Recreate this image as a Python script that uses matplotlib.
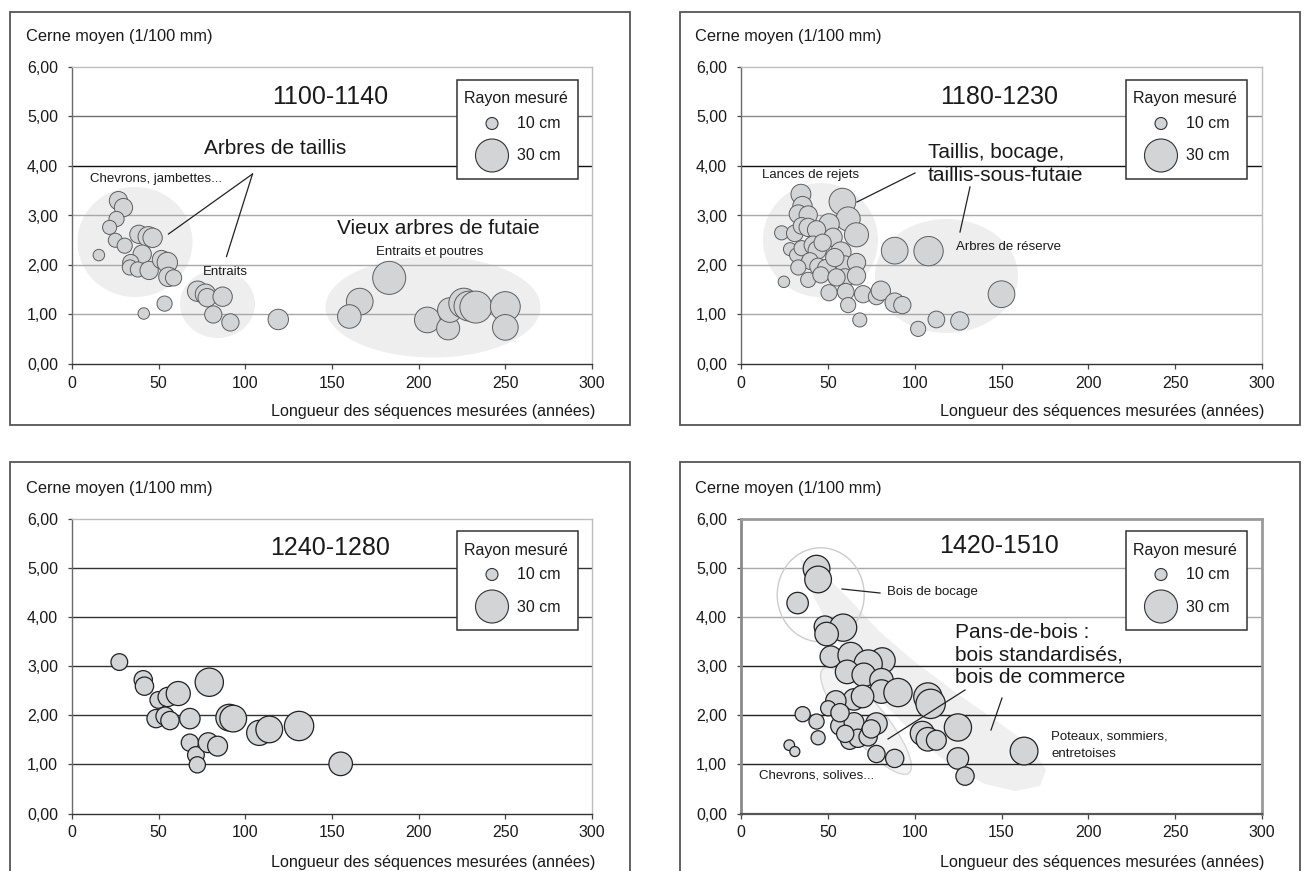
import matplotlib
matplotlib.use("Agg")
import matplotlib.pyplot as plt
import numpy as np
from matplotlib.patches import Ellipse, Rectangle, Polygon

plt.rcParams['font.family'] = ['Liberation Sans', 'DejaVu Sans']

# ---------------- data ----------------
y_ticks = [0, 1, 2, 3, 4, 5, 6]
y_tick_labels = ["0,00", "1,00", "2,00", "3,00", "4,00", "5,00", "6,00"]
x_ticks = [0, 50, 100, 150, 200, 250, 300]
x_tick_labels = ["0", "50", "100", "150", "200", "250", "300"]

y_title = "Cerne moyen (1/100 mm)"
x_title = "Longueur des séquences mesurées (années)"
legend_title = "Rayon mesuré"
legend_r = [10, 30]
legend_labels = ["10 cm", "30 cm"]

periods = ["1100-1140", "1180-1230", "1240-1280", "1420-1510"]

# 1100-1140
p1_x = [26.8, 29.7, 25.7, 21.7, 25.0, 30.4, 15.5, 38.6, 44.0, 46.5, 40.5, 33.9, 33.4, 38.0, 44.5,
        51.6, 55.0, 55.6, 58.6, 53.4, 41.4, 72.5, 77.0, 78.0, 86.9, 81.5, 91.4, 119.0,
        183, 166, 160, 205, 217, 218, 226, 229, 233, 250, 250]
p1_y = [3.30, 3.16, 2.93, 2.76, 2.50, 2.39, 2.20, 2.62, 2.57, 2.55, 2.22, 2.05, 1.95, 1.91, 1.89,
        2.11, 2.05, 1.76, 1.74, 1.22, 1.02, 1.47, 1.41, 1.34, 1.36, 1.00, 0.84, 0.90,
        1.74, 1.26, 0.96, 0.89, 0.72, 1.09, 1.23, 1.17, 1.15, 1.16, 0.74]
p1_r = [16, 16, 13, 12, 12, 13, 9.5, 16, 18, 17, 16, 14, 13, 13, 16,
        16, 18, 17, 14, 13, 9.5, 18, 18, 16, 17, 15, 15, 18,
        30, 24, 21, 23, 20.5, 22, 27, 27, 29, 27, 23]

# 1180-1230
p2_x = [34.5, 35.4, 33.0, 38.7, 58.4, 61.7, 66.5, 50.7, 23.4, 31.0, 34.9, 38.7, 43.5, 53.0, 28.2,
        32.0, 34.9, 41.6, 43.9, 39.7, 33.0, 38.7, 44.4, 49.3, 57.5, 59.8, 66.5, 59.8, 66.5, 50.7,
        60.3, 61.7, 68.4, 24.7, 70.3, 78.0, 80.5, 88.5, 92.9, 88.5, 108.0, 102.0, 112.5, 126.0,
        150.0, 47.0, 54.0, 46.0, 55.0]
p2_y = [3.43, 3.19, 3.03, 3.01, 3.28, 2.93, 2.61, 2.83, 2.65, 2.64, 2.79, 2.76, 2.71, 2.56, 2.32,
        2.20, 2.34, 2.40, 2.30, 2.08, 1.95, 1.70, 1.97, 1.93, 2.26, 2.00, 2.05, 1.74, 1.78, 1.44,
        1.46, 1.19, 0.89, 1.66, 1.41, 1.36, 1.48, 1.24, 1.19, 2.29, 2.28, 0.71, 0.90, 0.87,
        1.41, 2.45, 2.15, 1.80, 1.75]
p2_r = [17.5, 17, 16, 16, 24, 21.5, 21.5, 18, 12, 14.5, 14.5, 16, 16, 16, 11,
        12, 13, 16, 16, 14.5, 13, 13, 14.5, 16, 18, 16, 16, 16, 16, 14,
        14.5, 13, 12, 9.5, 15, 14, 17, 17, 15, 24, 26.5, 13, 14.5, 16,
        24, 15, 16, 14, 15]

# 1240-1280
p3_x = [27.3, 41.1, 41.8, 49.8, 55.2, 61.3, 79.2, 48.5, 53.7, 56.5, 68.0, 90.7, 93.0, 68.0,
        71.5, 72.3, 78.6, 84.0, 108.0, 113.8, 131.0, 155.0]
p3_y = [3.08, 2.72, 2.59, 2.31, 2.37, 2.44, 2.67, 1.93, 1.98, 1.89, 1.93, 1.95, 1.93, 1.44,
        1.19, 0.99, 1.44, 1.37, 1.64, 1.71, 1.78, 1.01]
p3_r = [14.5, 16, 16, 14.5, 17, 21.5, 25.5, 16, 16, 16, 18, 24, 24, 15,
        14.5, 14, 17.5, 17.5, 22.5, 24, 26.5, 21]

# 1420-1510
p4_x = [43.5, 44.4, 32.6, 48.3, 58.8, 49.3, 51.7, 63.2, 81.4, 73.2, 61.1, 70.7, 80.9, 80.9, 65.1,
        54.6, 90.4, 107.6, 109.2, 50.2, 35.5, 43.5, 56.9, 65.1, 78.0, 44.4, 62.6, 67.4, 73.2, 78.0,
        88.5, 104.4, 107.6, 112.5, 124.9, 124.9, 129.0, 27.8, 31.0, 163.0, 57.0, 70.0, 60.0, 75.0]
p4_y = [4.98, 4.76, 4.28, 3.80, 3.78, 3.65, 3.19, 3.22, 3.11, 3.04, 2.88, 2.82, 2.71, 2.48, 2.32,
        2.29, 2.46, 2.37, 2.23, 2.14, 2.02, 1.87, 1.78, 1.85, 1.83, 1.54, 1.49, 1.53, 1.56, 1.21,
        1.12, 1.63, 1.51, 1.49, 1.75, 1.12, 0.76, 1.39, 1.26, 1.27, 2.05, 2.38, 1.62, 1.72]
p4_r = [24, 24, 19, 19, 24.5, 21, 19, 23, 23, 25.5, 21, 21, 21, 21, 19,
        18, 25.5, 25.5, 26.5, 13, 13, 13, 16, 17.5, 19, 12, 16, 16, 16, 15,
        16, 21.5, 21, 17.5, 24.5, 19, 16, 8.7, 8.1, 25, 16, 20, 15, 16]

# ---------------- figure ----------------
W, H = 1304, 871
fig = plt.figure(figsize=(W / 100, H / 100), dpi=100)
fig.patch.set_facecolor('white')
TXT = '#1a1a1a'
FILL = '#d3d4d6'


def size_pts2(r):
    d_px = 1.05 * np.asarray(r, dtype=float) + 1.5
    return (d_px * 0.72) ** 2


def fxy(px, py):
    return px / W, 1 - py / H


def inch(px, py):
    return px / 100.0, (H - py) / 100.0


panels = [
    dict(x0=72, x1=592, yt=67, yb=364, frame=(10, 12, 630, 425), dx=0, dy=0,
         data=(p1_x, p1_y, p1_r), edge='#5e5e5e', elw=0.7,
         grid={1: '#a8a8a8', 2: '#a8a8a8', 3: '#a8a8a8', 4: '#111111', 5: '#6e6e6e'},
         spine='#bdbdbd', spw=1.0),
    dict(x0=741, x1=1262, yt=67, yb=364, frame=(680, 12, 1300, 425), dx=669, dy=0,
         data=(p2_x, p2_y, p2_r), edge='#5e5e5e', elw=0.7,
         grid={1: '#a8a8a8', 2: '#a8a8a8', 3: '#a8a8a8', 4: '#111111', 5: '#8a8a8a'},
         spine='#bdbdbd', spw=1.0),
    dict(x0=72, x1=592, yt=518.5, yb=813.5, frame=(10, 462, 630, 900), dx=0, dy=451,
         data=(p3_x, p3_y, p3_r), edge='#222222', elw=0.9,
         grid={1: '#333333', 2: '#333333', 3: '#333333', 4: '#333333', 5: '#333333'},
         spine='#bdbdbd', spw=1.0),
    dict(x0=741, x1=1262, yt=518.5, yb=813.5, frame=(680, 462, 1300, 900), dx=669, dy=451,
         data=(p4_x, p4_y, p4_r), edge='#222222', elw=0.9,
         grid={1: '#222222', 2: '#222222', 3: '#222222', 4: '#a8a8a8', 5: '#a8a8a8'},
         spine='#9a9a9a', spw=2.0),
]

axes = []
for i, p in enumerate(panels):
    # outer frame
    fx0, fy0, fx1, fy1 = p['frame']
    fig.add_artist(Rectangle(fxy(fx0, fy1), (fx1 - fx0) / W, (fy1 - fy0) / H,
                             transform=fig.transFigure, fill=False,
                             edgecolor='#555555', lw=1.3, zorder=0))
    ax = fig.add_axes([p['x0'] / W, 1 - p['yb'] / H, (p['x1'] - p['x0']) / W,
                       (p['yb'] - p['yt']) / H])
    ax.set_facecolor('none')
    ax.set_xlim(0, 300)
    ax.set_ylim(0, 6)
    ax.set_xticks(x_ticks)
    ax.set_xticklabels(x_tick_labels)
    ax.set_yticks(y_ticks)
    ax.set_yticklabels(y_tick_labels)
    ax.tick_params(axis='x', direction='out', length=3.5, width=0.9, color='#444444',
                   pad=5, labelsize=11.5, labelcolor=TXT)
    ax.tick_params(axis='y', direction='out', length=3, width=0.9, color='#444444',
                   pad=7, labelsize=11.5, labelcolor=TXT)
    for s in ['top', 'right']:
        ax.spines[s].set_color(p['spine'])
        ax.spines[s].set_linewidth(p['spw'])
    ax.spines['left'].set_color('#6a6a6a' if i < 3 else '#8a8a8a')
    ax.spines['left'].set_linewidth(1.0 if i < 3 else 2.0)
    ax.spines['bottom'].set_color('#333333' if i < 3 else '#555555')
    ax.spines['bottom'].set_linewidth(1.0 if i < 3 else 1.6)
    for gy, col in p['grid'].items():
        ax.axhline(gy, color=col, lw=1.0, zorder=1)
    xs, ys, rs = p['data']
    ax.scatter(xs, ys, s=size_pts2(rs), color=FILL, edgecolors=p['edge'],
               linewidths=p['elw'], zorder=3, clip_on=False)

    dx, dy = p['dx'], p['dy']
    # axis titles
    fig.text(*fxy(26 + dx, 37 + dy), y_title, fontsize=11.8, color=TXT, ha='left', va='center')
    fig.text(*fxy(595 + dx, 411 + dy), x_title, fontsize=11.6, color=TXT, ha='right', va='center')
    # period title
    fig.text(*fxy(330 + dx, 97 + dy - (2 if i == 3 else 0)), periods[i], fontsize=18,
             color=TXT, ha='center', va='center')
    # legend box
    lb = Rectangle(inch(457 + dx, 179 + dy), 121 / 100.0, 99 / 100.0,
                   transform=fig.dpi_scale_trans, facecolor='white', edgecolor='#333333',
                   lw=1.1, zorder=6, clip_on=False)
    ax.add_patch(lb)
    fig.text(*fxy(516 + dx, 99 + dy), legend_title, fontsize=11.5, color=TXT,
             ha='center', va='center', zorder=8)
    lx = [(492 + dx - p['x0']) / (p['x1'] - p['x0'])] * 2
    ly = [(p['yb'] - (123.5 + dy)) / (p['yb'] - p['yt']), (p['yb'] - (155.5 + dy)) / (p['yb'] - p['yt'])]
    ax.scatter(lx, ly, s=size_pts2(legend_r), color=FILL, edgecolors='#333333',
               linewidths=0.8, transform=ax.transAxes, zorder=7, clip_on=False)
    for k, lab in enumerate(legend_labels):
        fig.text(*fxy(517 + dx, [123.5, 156][k] + dy), lab, fontsize=11.5, color=TXT,
                 ha='left', va='center', zorder=8)
    axes.append(ax)


def ell(ax, cx, cy, w, h, angle=0, fc='#eeeeee', ec='none', lw=0, z=0.5, fill=True):
    e = Ellipse(inch(cx, cy), w / 100.0, h / 100.0, angle=angle,
                transform=fig.dpi_scale_trans, facecolor=fc if fill else 'none',
                edgecolor=ec, lw=lw, zorder=z, clip_on=False)
    ax.add_patch(e)


def line(ax, x1, y1, x2, y2, lw=0.9):
    a = inch(x1, y1)
    b = inch(x2, y2)
    ax.plot([a[0], b[0]], [a[1], b[1]], transform=fig.dpi_scale_trans, color='#222222',
            lw=lw, zorder=5, clip_on=False)


def txt(px, py, s, fs, ha='left', ls=1.25):
    fig.text(*fxy(px, py), s, fontsize=fs, color=TXT, ha=ha, va='center', zorder=9,
             linespacing=ls)


# ---- panel 1 annotations ----
a1 = axes[0]
ell(a1, 135, 242, 115, 110)
ell(a1, 217.5, 304, 75, 68)
ell(a1, 433, 307, 215, 101)
txt(275, 148, "Arbres de taillis", 15, ha='center')
txt(90, 179, "Chevrons, jambettes...", 9.5)
txt(225, 272, "Entraits", 9.5, ha='center')
txt(438, 229, "Vieux arbres de futaie", 15, ha='center')
txt(430, 252, "Entraits et poutres", 9.5, ha='center')
line(a1, 252.5, 174, 168.5, 234)
line(a1, 252.5, 174, 226.5, 256.5)

# ---- panel 2 annotations ----
a2 = axes[1]
ell(a2, 820.5, 240, 115, 114)
ell(a2, 946.5, 276, 143, 114)
txt(762, 175, "Lances de rejets", 9.5)
txt(928, 164, "Taillis, bocage,\ntaillis-sous-futaie", 15, ls=1.22)
txt(956, 247, "Arbres de réserve", 9.5)
line(a2, 915, 173, 857, 202)
line(a2, 970, 187, 960, 232)

# ---- panel 4 annotations ----
a4 = axes[3]
band = [(800, 558), (822, 572), (850, 600), (880, 632), (915, 662), (955, 692), (995, 720),
        (1030, 745), (1046, 770), (1040, 786), (1015, 791), (985, 784), (955, 768),
        (925, 745), (895, 715), (870, 690), (850, 662), (832, 632), (818, 605), (805, 580)]
a4.add_patch(Polygon([inch(x, y) for x, y in band], closed=True, transform=fig.dpi_scale_trans,
                     facecolor='#efefef', edgecolor='none', zorder=0.5, clip_on=False))
ell(a4, 866, 721, 135, 38, angle=-50.4, fc='#f3f3f3', ec='#d6d6d6', lw=1.0, z=0.6)
ell(a4, 820.7, 594.8, 87, 94, fc='none', ec='#cccccc', lw=1.0, z=2, fill=False)
txt(887, 592, "Bois de bocage", 9.5)
line(a4, 842, 589, 880, 593)
txt(955, 655, "Pans-de-bois :\nbois standardisés,\nbois de commerce", 15, ls=1.22)
line(a4, 965, 690, 888, 739)
line(a4, 1002, 698, 991, 730)
txt(1051, 745, "Poteaux, sommiers,\nentretoises", 9.5, ls=1.65)
txt(759, 775, "Chevrons, solives...", 9.5)

fig.savefig("out.png", dpi=100)
